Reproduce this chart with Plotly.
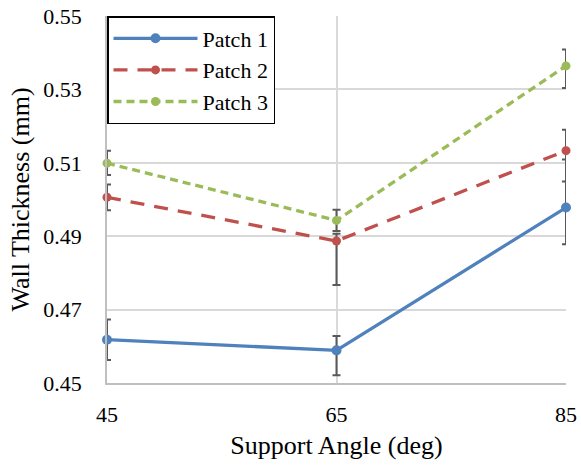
import plotly.graph_objects as go

angles = [45, 65, 85]
names = ["Patch 1", "Patch 2", "Patch 3"]
p1 = [0.4618, 0.4589, 0.4978]
p1_plus = [0.0055, 0.0039, 0.0131]
p1_minus = [0.0055, 0.0068, 0.0100]
p2 = [0.5006, 0.4887, 0.5133]
p2_plus = [0.0035, 0.0020, 0.0057]
p2_minus = [0.0035, 0.0120, 0.0084]
p3 = [0.5099, 0.4943, 0.5364]
p3_plus = [0.0034, 0.0029, 0.0045]
p3_minus = [0.0032, 0.0029, 0.0060]
y_ticks = [0.45, 0.47, 0.49, 0.51, 0.53, 0.55]
x_ticks = [45, 65, 85]

series = [
    (names[0], p1, p1_plus, p1_minus, "#4F81BD", "solid", 10),
    (names[1], p2, p2_plus, p2_minus, "#C0504D", "14px,10px", 9),
    (names[2], p3, p3_plus, p3_minus, "#9BBB59", "8px,5px", 9),
]

fig = go.Figure()
for name, y, ep, em, color, dash, msize in series:
    fig.add_trace(go.Scatter(
        x=angles, y=y, name=name, mode="lines+markers",
        line=dict(color=color, width=3.3, dash=dash),
        marker=dict(color=color, size=msize, symbol="circle"),
        error_y=dict(type="data", symmetric=False, array=ep, arrayminus=em,
                     color="#595959", thickness=2, width=4),
        cliponaxis=False,
    ))

ff = "Liberation Serif"
fig.update_layout(
    width=581, height=465,
    margin=dict(l=107, r=15, t=16, b=82, autoexpand=False),
    plot_bgcolor="white", paper_bgcolor="white",
    font=dict(family=ff, size=22, color="black"),
    showlegend=True,
    legend=dict(x=0, y=1, xanchor="left", yanchor="top",
                bordercolor="black", borderwidth=1.5, bgcolor="white",
                font=dict(family=ff, size=22, color="black"),
                tracegroupgap=0, itemwidth=84),
    xaxis=dict(range=[45, 85], tickvals=x_ticks, ticktext=[str(v) for v in x_ticks],
               showgrid=True, gridcolor="#d9d9d9", gridwidth=1.5,
               showline=True, linecolor="#bfbfbf", linewidth=1.5,
               zeroline=False, ticks="outside", ticklen=11, tickcolor="rgba(0,0,0,0)",
               tickfont=dict(family=ff, size=22, color="black"),
               title=dict(text="Support Angle (deg)", standoff=10,
                          font=dict(family=ff, size=26, color="black")),
               automargin=False),
    yaxis=dict(range=[0.45, 0.55], tickvals=y_ticks,
               ticktext=[f"{v:.2f}" for v in y_ticks],
               showgrid=True, gridcolor="#d9d9d9", gridwidth=1.5,
               showline=True, linecolor="#bfbfbf", linewidth=1.5,
               zeroline=False, ticks="outside", ticklen=19, tickcolor="rgba(0,0,0,0)",
               tickfont=dict(family=ff, size=22, color="black"),
               title=dict(text="Wall Thickness (mm)", standoff=6,
                          font=dict(family=ff, size=26, color="black")),
               automargin=False),
)
fig.write_html("out.html")
